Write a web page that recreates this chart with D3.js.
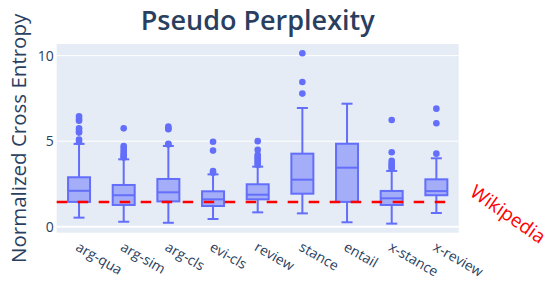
<!DOCTYPE html>
<html>
<head>
<meta charset="utf-8">
<script src="https://cdn.jsdelivr.net/npm/d3@7"></script>
<style>
    body { margin: 0; background: #ffffff; }
    text { font-family: "Open Sans", sans-serif; }
</style>
</head>
<body>
<div id="chart-container"></div>
<script>
// Categorias do eixo x
const categories = ['arg-qua', 'arg-sim', 'arg-cls', 'evi-cls', 'review', 'stance', 'entail', 'x-stance', 'x-review'];

// Estatisticas de cada caixa
const lowerFence = [0.53, 0.29, 0.23, 0.45, 0.84, 0.78, 0.26, 0.18, 0.80];
const q1 = [1.45, 1.27, 1.48, 1.21, 1.60, 1.93, 1.45, 1.27, 1.84];
const median = [2.10, 1.84, 2.01, 1.60, 1.87, 2.75, 3.45, 1.66, 2.08];
const q3 = [2.89, 2.44, 2.79, 2.07, 2.48, 4.27, 4.85, 2.09, 2.77];
const upperFence = [4.84, 3.94, 4.72, 3.06, 3.51, 6.94, 7.19, 3.26, 4.00];

// Pontos fora das cercas
const outliers = [
    [4.95, 5.1, 5.5, 5.6, 5.75, 6.2, 6.3, 6.45],
    [4.05, 4.1, 4.2, 4.3, 4.45, 4.6, 4.72, 5.75],
    [4.8, 4.85, 5.7, 5.75, 5.85],
    [3.15, 3.25, 4.45, 4.97],
    [3.6, 3.7, 3.8, 3.9, 4.0, 4.1, 4.2, 4.5, 5.0],
    [7.78, 8.46, 10.14],
    [],
    [3.4, 3.5, 3.6, 3.7, 3.86, 4.35, 6.24],
    [4.27, 6.05, 6.9]
];

// Linha de referencia e ticks
const wikipediaValue = 1.44;
const yTicks = [0, 5, 10];
const yDomain = [-0.35, 10.68];

const width = 552;
const height = 282;
const plot = { left: 56.7, right: 458.7, top: 44, bottom: 232.7 };

const boxColor = '#636efa';
const textColor = '#2a3f5f';

const svg = d3.select('#chart-container').append('svg')
    .attr('width', width)
    .attr('height', height)
    .attr('viewBox', `0 0 ${width} ${height}`);

const x = d3.scaleBand()
    .domain(categories)
    .range([plot.left, plot.right])
    .padding(0);

const y = d3.scaleLinear()
    .domain(yDomain)
    .range([plot.bottom, plot.top]);

// Fundo da area do grafico
svg.append('rect')
    .attr('x', plot.left)
    .attr('y', plot.top)
    .attr('width', plot.right - plot.left)
    .attr('height', plot.bottom - plot.top)
    .attr('fill', '#e5ecf6');

// Linhas de grade (a linha do zero e mais grossa)
svg.selectAll('.grid')
    .data(yTicks)
    .enter().append('line')
    .attr('class', 'grid')
    .attr('x1', plot.left)
    .attr('x2', plot.right)
    .attr('y1', d => y(d))
    .attr('y2', d => y(d))
    .attr('stroke', '#ffffff')
    .attr('stroke-width', d => d === 0 ? 2 : 1);

// Eixo y
const yAxis = svg.append('g')
    .attr('transform', `translate(${plot.left},0)`)
    .call(d3.axisLeft(y).tickValues(yTicks).tickSize(0).tickPadding(3));
yAxis.select('.domain').remove();
yAxis.selectAll('text')
    .attr('fill', textColor)
    .style('font-size', '14px')
    .style('font-family', '"Open Sans", sans-serif');

// Eixo x com rotulos inclinados
const bw = x.bandwidth();
svg.selectAll('.xlabel')
    .data(categories)
    .enter().append('text')
    .attr('class', 'xlabel')
    .attr('transform', d => `translate(${x(d) + bw / 2 + 1},${plot.bottom + 8}) rotate(30)`)
    .attr('dy', '0.75em')
    .attr('text-anchor', 'start')
    .attr('fill', textColor)
    .style('font-size', '14px')
    .text(d => d);

// Dados das caixas montados a partir dos arrays
const boxes = categories.map((c, i) => ({
    cat: c,
    lo: lowerFence[i],
    q1: q1[i],
    med: median[i],
    q3: q3[i],
    hi: upperFence[i],
    out: outliers[i]
}));

const boxW = 22;
const capW = 11;

const g = svg.selectAll('.box')
    .data(boxes)
    .enter().append('g')
    .attr('class', 'box')
    .attr('transform', d => `translate(${x(d.cat) + bw / 2},0)`);

// Bigodes
g.append('line')
    .attr('x1', 0).attr('x2', 0)
    .attr('y1', d => y(d.q3))
    .attr('y2', d => y(d.hi))
    .attr('stroke', boxColor)
    .attr('stroke-width', 2);
g.append('line')
    .attr('x1', 0).attr('x2', 0)
    .attr('y1', d => y(d.q1))
    .attr('y2', d => y(d.lo))
    .attr('stroke', boxColor)
    .attr('stroke-width', 2);
g.append('line')
    .attr('x1', -capW / 2).attr('x2', capW / 2)
    .attr('y1', d => y(d.hi))
    .attr('y2', d => y(d.hi))
    .attr('stroke', boxColor)
    .attr('stroke-width', 2);
g.append('line')
    .attr('x1', -capW / 2).attr('x2', capW / 2)
    .attr('y1', d => y(d.lo))
    .attr('y2', d => y(d.lo))
    .attr('stroke', boxColor)
    .attr('stroke-width', 2);

// Caixa
g.append('rect')
    .attr('x', -boxW / 2)
    .attr('width', boxW)
    .attr('y', d => y(d.q3))
    .attr('height', d => y(d.q1) - y(d.q3))
    .attr('fill', 'rgba(99,110,250,0.5)')
    .attr('stroke', boxColor)
    .attr('stroke-width', 2);

// Mediana
g.append('line')
    .attr('x1', -boxW / 2).attr('x2', boxW / 2)
    .attr('y1', d => y(d.med))
    .attr('y2', d => y(d.med))
    .attr('stroke', boxColor)
    .attr('stroke-width', 2);

// Outliers
g.selectAll('circle')
    .data(d => d.out)
    .enter().append('circle')
    .attr('cx', 0)
    .attr('cy', d => y(d))
    .attr('r', 3.3)
    .attr('fill', boxColor);

// Linha tracejada da Wikipedia
svg.append('line')
    .attr('x1', plot.left)
    .attr('x2', 451)
    .attr('y1', y(wikipediaValue))
    .attr('y2', y(wikipediaValue))
    .attr('stroke', '#ff0000')
    .attr('stroke-width', 2.5)
    .attr('stroke-dasharray', '10.5,10.5');

svg.append('text')
    .attr('transform', `translate(508,214) rotate(35)`)
    .attr('text-anchor', 'middle')
    .attr('dy', '0.35em')
    .attr('fill', '#ff0000')
    .style('font-size', '19px')
    .text('Wikipedia');

// Titulos
svg.append('text')
    .attr('x', (plot.left + plot.right) / 2)
    .attr('y', 30)
    .attr('text-anchor', 'middle')
    .attr('fill', textColor)
    .style('font-size', '27px')
    .style('font-weight', 600)
    .text('Pseudo Perplexity');

svg.append('text')
    .attr('transform', `translate(19,${(plot.top + plot.bottom) / 2}) rotate(-90)`)
    .attr('text-anchor', 'middle')
    .attr('dy', '0.35em')
    .attr('fill', textColor)
    .style('font-size', '20.5px')
    .text('Normalized Cross Entropy');
</script>
</body>
</html>
